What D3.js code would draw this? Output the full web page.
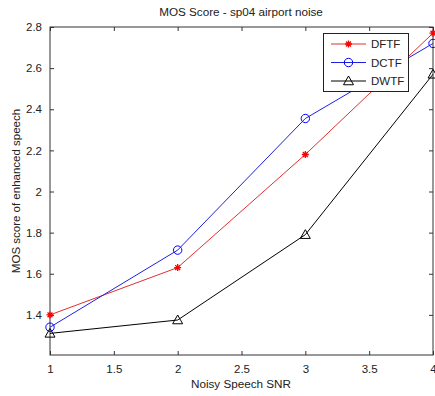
<!DOCTYPE html>
<html><head><meta charset="utf-8">
<script src="https://cdn.jsdelivr.net/npm/d3@7"></script>
<style>body{margin:0;background:#fff}text{font-family:"Liberation Sans",Arial,sans-serif}</style>
</head><body><svg id="c" width="435" height="396"></svg>
<script>
const snr = [1, 2, 3, 4];
const dftf = [1.40, 1.63, 2.18, 2.77];
const dctf = [1.34, 1.715, 2.355, 2.72];
const dwtf = [1.31, 1.375, 1.79, 2.57];
const seriesNames = ["DFTF", "DCTF", "DWTF"];
const xTicks = [1, 1.5, 2, 2.5, 3, 3.5, 4];
const yTicks = [1.4, 1.6, 1.8, 2, 2.2, 2.4, 2.6, 2.8];

const svg = d3.select("#c");
const L = 50, R = 433, T = 27, B = 355;
const x = d3.scaleLinear().domain([1, 4]).range([L, R]);
const y = d3.scaleLinear().domain([1.2, 2.8]).range([B + 1, T]);

const fmt = d => String(d);
const axC = "#333";
const gb = svg.append("g").attr("transform", `translate(0,${B})`)
  .call(d3.axisBottom(x).tickValues(xTicks).tickFormat(fmt).tickSizeInner(-4).tickSizeOuter(0).tickPadding(10));
const gt = svg.append("g").attr("transform", `translate(0,${T})`)
  .call(d3.axisTop(x).tickValues(xTicks).tickFormat("").tickSizeInner(-4).tickSizeOuter(0));
const gl = svg.append("g").attr("transform", `translate(${L},0)`)
  .call(d3.axisLeft(y).tickValues(yTicks).tickFormat(fmt).tickSizeInner(-4).tickSizeOuter(0).tickPadding(8));
const gr = svg.append("g").attr("transform", `translate(${R},0)`)
  .call(d3.axisRight(y).tickValues(yTicks).tickFormat("").tickSizeInner(-4).tickSizeOuter(0));
[gb, gt, gl, gr].forEach(g => {
  g.selectAll(".domain").remove();
  g.selectAll("line").attr("stroke", axC);
  g.selectAll("text").attr("fill", "#222").style("font-size", "11.5px");
});
svg.append("rect").attr("x", L).attr("y", T).attr("width", R - L).attr("height", B - T)
  .attr("fill", "none").attr("stroke", axC).attr("stroke-width", 1);

svg.append("text").attr("x", 241).attr("y", 16).attr("text-anchor", "middle")
  .style("font-size", "11.7px").attr("fill", "#222").text("MOS Score - sp04 airport noise");
svg.append("text").attr("x", 241).attr("y", 388).attr("text-anchor", "middle")
  .style("font-size", "11.7px").attr("fill", "#222").text("Noisy Speech SNR");
svg.append("text").attr("transform", "translate(20,191) rotate(-90)").attr("text-anchor", "middle")
  .style("font-size", "11.5px").attr("fill", "#222").text("MOS score of enhanced speech");

const line = d3.line().x((d, i) => x(snr[i])).y(d => y(d));
const colors = ["#ff0000", "#0000ff", "#000000"];
const lineColors = ["#e03030", "#2020e0", "#000"];
const data = [dftf, dctf, dwtf];

function marker(g, kind, cx, cy, col) {
  if (kind === 0) {
    const s = 3.5;
    g.append("path").attr("d", `M${cx-s},${cy}H${cx+s}M${cx},${cy-s}V${cy+s}M${cx-s*0.7},${cy-s*0.7}L${cx+s*0.7},${cy+s*0.7}M${cx-s*0.7},${cy+s*0.7}L${cx+s*0.7},${cy-s*0.7}`)
      .attr("stroke", col).attr("stroke-width", 1.3).attr("fill", "none");
  } else if (kind === 1) {
    g.append("circle").attr("cx", cx).attr("cy", cy).attr("r", 4.2).attr("fill", "none").attr("stroke", col).attr("stroke-width", 1);
  } else {
    const s = 5;
    g.append("path").attr("d", `M${cx},${cy-s}L${cx+s},${cy+s*0.75}L${cx-s},${cy+s*0.75}Z`)
      .attr("fill", "none").attr("stroke", col).attr("stroke-width", 1);
  }
}

data.forEach((vals, k) => {
  const g = svg.append("g");
  g.append("path").attr("d", line(vals)).attr("fill", "none").attr("stroke", lineColors[k]).attr("stroke-width", 1);
  vals.forEach((v, i) => marker(g, k, x(snr[i]), y(v), colors[k]));
});

const lg = svg.append("g");
lg.append("rect").attr("x", 323.5).attr("y", 33.5).attr("width", 85).attr("height", 58)
  .attr("fill", "#fff").attr("stroke", "#222").attr("stroke-width", 1);
seriesNames.forEach((n, k) => {
  const yy = 44 + k * 18.5;
  lg.append("line").attr("x1", 331).attr("x2", 366).attr("y1", yy).attr("y2", yy).attr("stroke", lineColors[k]);
  marker(lg, k, 348.5, yy, colors[k]);
  lg.append("text").attr("x", 371).attr("y", yy + 4).style("font-size", "11.5px").attr("fill", "#222").text(n);
});
</script></body></html>
